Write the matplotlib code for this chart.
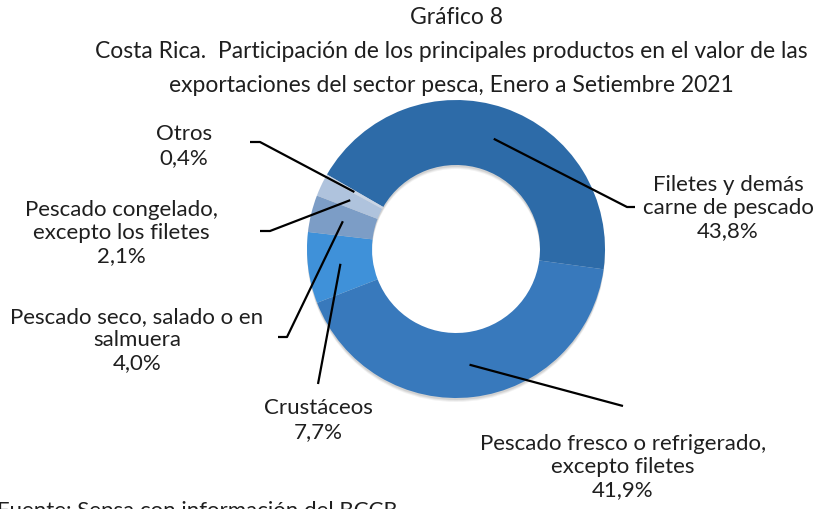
import matplotlib.pyplot as plt
import numpy as np

productos = [
    "Filetes y demás\ncarne de pescado",
    "Pescado fresco o refrigerado,\nexcepto filetes",
    "Crustáceos",
    "Pescado seco, salado o en\nsalmuera",
    "Pescado congelado,\nexcepto los filetes",
    "Otros",
]
participacion = [43.8, 41.9, 7.7, 4.0, 2.1, 0.4]
colores = ["#2D6BA8", "#3879BC", "#3F91D9", "#7C9DC6", "#AFC3DD", "#C9D5E6"]

# label placement in pixels (x centre, y centre of block) and leader end / elbow
lab_pos = [(728, 208), (623, 467), (318, 420), (137, 340), (121, 233), (184, 146)]
lead_end = [(627, 208), (623, 407), (318, 385), (287, 338), (270, 232), (260, 143)]
lead_tail = [(635, 208), None, None, (278, 338), (260, 232), (250, 143)]

W, H = 814, 510
cx, cy, R, r_in = 456, 250, 149, 84
TXT = "#1f1f1f"


def py(y):
    return H - y


plt.rcParams["font.family"] = ["Lato", "DejaVu Sans"]

fig = plt.figure(figsize=(8.14, 5.10), dpi=100)
ax = fig.add_axes([0, 0, 1, 1])

# soft shadow
for k, a in [(4, 0.05), (3, 0.06), (2, 0.08)]:
    ax.pie([1], radius=R, center=(cx, py(cy + k)), colors=["#000000"],
           wedgeprops=dict(width=R - r_in, alpha=a, linewidth=0), frame=True)

wedges, _ = ax.pie(participacion, radius=R, center=(cx, py(cy)), colors=colores,
                   startangle=150, counterclock=False,
                   wedgeprops=dict(width=R - r_in, linewidth=0), frame=True)
ax.set_xlim(0, W)
ax.set_ylim(0, H)
ax.set_aspect("equal")
ax.axis("off")

r_mid = (R + r_in) / 2
for w, nombre, v, lp, le, lt in zip(wedges, productos, participacion, lab_pos, lead_end, lead_tail):
    ang = np.deg2rad((w.theta1 + w.theta2) / 2)
    x0 = cx + r_mid * np.cos(ang)
    y0 = py(cy) + r_mid * np.sin(ang)
    xs = [x0, le[0]]
    ys = [y0, py(le[1])]
    if lt is not None:
        xs.append(lt[0])
        ys.append(py(lt[1]))
    ax.plot(xs, ys, color="black", lw=1.6, solid_capstyle="butt")
    txt = nombre + "\n" + f"{v:.1f}".replace(".", ",") + "%"
    ax.text(lp[0], py(lp[1]), txt, ha="center", va="center", fontsize=16,
            color=TXT, linespacing=1.2)

ax.text(457, py(18), "Gráfico 8", ha="center", va="center", fontsize=16.5, color=TXT)
ax.text(451, py(52), "Costa Rica.  Participación de los principales productos en el valor de las",
        ha="center", va="center", fontsize=16.5, color=TXT)
ax.text(451, py(85), "exportaciones del sector pesca, Enero a Setiembre 2021",
        ha="center", va="center", fontsize=16.5, color=TXT)
ax.text(-3, py(501), "Fuente: Sepsa con información del BCCR", ha="left", va="top",
        fontsize=16, color=TXT)

fig.savefig("out.png", dpi=100)
